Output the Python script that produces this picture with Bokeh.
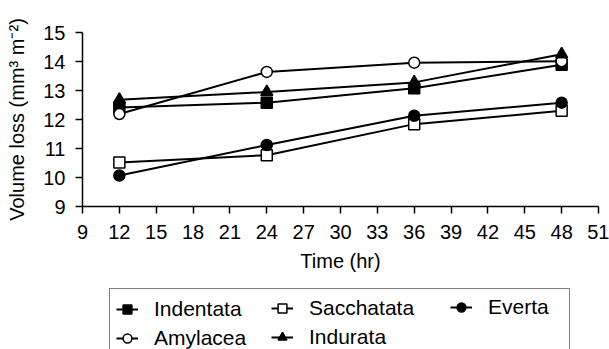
from bokeh.plotting import figure
from bokeh.models import Range1d, FixedTicker, Legend, LegendItem, LinearAxis
from bokeh.embed import file_html
from bokeh.resources import INLINE

time_hr = [12, 24, 36, 48]
indentata = [12.41, 12.58, 13.08, 13.89]
sacchatata = [10.52, 10.77, 11.84, 12.30]
everta = [10.07, 11.12, 12.13, 12.58]
amylacea = [12.19, 13.64, 13.96, 14.01]
indurata = [12.68, 12.95, 13.28, 14.25]
x_ticks = [9, 12, 15, 18, 21, 24, 27, 30, 33, 36, 39, 42, 45, 48, 51]
y_ticks = [9, 10, 11, 12, 13, 14, 15]

FONT = "Liberation Sans"
W, H = 609, 349
# plot area in pixels: x 82..598, y 32..206
px_x = (598 - 82) / (x_ticks[-1] - x_ticks[0])
px_y = (206 - 32) / (y_ticks[-1] - y_ticks[0])
x_lo = x_ticks[0] - 82 / px_x
x_hi = x_ticks[-1] + (W - 598) / px_x
y_hi = y_ticks[-1] + 32 / px_y
y_lo = y_ticks[0] - (H - 206) / px_y

p = figure(width=W, height=H, frame_width=W, frame_height=H,
           x_range=Range1d(x_lo, x_hi), y_range=Range1d(y_lo, y_hi),
           output_backend="svg", toolbar_location=None,
           x_axis_location=None, y_axis_location=None,
           min_border=0)
p.outline_line_color = None
p.grid.visible = False

xaxis = LinearAxis(fixed_location=y_ticks[0], bounds=(x_ticks[0], x_ticks[-1]),
                   ticker=FixedTicker(ticks=x_ticks), axis_label="Time (hr)")
yaxis = LinearAxis(fixed_location=x_ticks[0], bounds=(y_ticks[0], y_ticks[-1]),
                   ticker=FixedTicker(ticks=y_ticks),
                   axis_label="Volume loss (mm³ m⁻²)")
for ax in (xaxis, yaxis):
    ax.major_label_text_font = FONT
    ax.major_label_text_font_size = "20px"
    ax.major_label_text_color = "black"
    ax.axis_label_text_font = FONT
    ax.axis_label_text_font_size = "20px"
    ax.axis_label_text_font_style = "normal"
    ax.axis_label_text_color = "black"
    ax.axis_line_color = "black"
    ax.axis_line_width = 1.5
    ax.major_tick_line_color = "black"
    ax.major_tick_line_width = 1.5
    ax.major_tick_in = 0
    ax.major_tick_out = 7
    ax.minor_tick_line_color = None
xaxis.major_label_standoff = 11
yaxis.major_label_standoff = 10
xaxis.axis_label_standoff = 8
yaxis.axis_label_standoff = 12
p.add_layout(xaxis, "below")
p.add_layout(yaxis, "left")

series = [
    ("Indentata", indentata, "square", "black", 11),
    ("Sacchatata", sacchatata, "square", "white", 11),
    ("Everta", everta, "circle", "black", 11),
    ("Amylacea", amylacea, "circle", "white", 11),
    ("Indurata", indurata, "triangle", "black", 12),
]

items = {}
for name, vals, marker, fill, size in series:
    l = p.line(time_hr, vals, line_color="black", line_width=2)
    s = p.scatter(time_hr, vals, marker=marker, size=size, fill_color=fill,
                  line_color="black", line_width=1.5)
    items[name] = LegendItem(label=name, renderers=[l, s])

common = dict(label_text_font=FONT, label_text_font_size="21px",
              label_text_color="black", glyph_width=22, glyph_height=24,
              label_height=27, spacing=2, label_standoff=16, padding=6,
              margin=0, orientation="vertical")

leg1 = Legend(items=[items["Indentata"], items["Amylacea"]],
              location=(109, -9), label_width=409,
              border_line_color="black", border_line_width=1.5,
              background_fill_color="white", background_fill_alpha=1, **common)
leg2 = Legend(items=[items["Sacchatata"], items["Indurata"]],
              location=(271, -1), border_line_color=None,
              background_fill_alpha=0, **common)
leg3 = Legend(items=[items["Everta"]],
              location=(450, 29), border_line_color=None,
              background_fill_alpha=0, **common)
p.add_layout(leg1)
p.add_layout(leg2)
p.add_layout(leg3)

open("out.html", "w").write(file_html(p, INLINE))
